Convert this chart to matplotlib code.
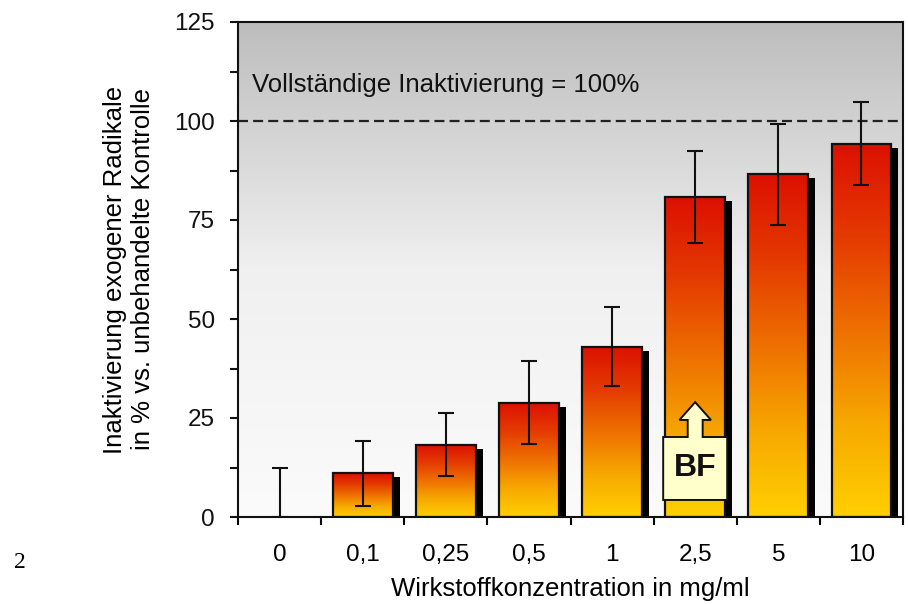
import numpy as np
import matplotlib
matplotlib.use("Agg")
import matplotlib.pyplot as plt
from matplotlib.colors import LinearSegmentedColormap
from matplotlib.patches import Rectangle, Polygon

plt.rcParams['font.family'] = ['Liberation Sans', 'DejaVu Sans']

# ---- data ----
categories = ["0", "0,1", "0,25", "0,5", "1", "2,5", "5", "10"]
values = [0, 11.0, 18.3, 28.9, 43.0, 80.7, 86.5, 94.3]
errors = [12.5, 8.3, 7.9, 10.5, 10.0, 11.6, 12.7, 10.5]
yticks = [0, 25, 50, 75, 100, 125]
ylabel_lines = ["Inaktivierung exogener Radikale", "in % vs. unbehandelte Kontrolle"]
xlabel = "Wirkstoffkonzentration in mg/ml"
ref_text = "Vollständige Inaktivierung = 100%"
ref_value = 100
bf_index = 5
bf_label = "BF"

FS_TICK = 17.5
FS_LAB = 18.5

fig = plt.figure(figsize=(9.08, 6.04), dpi=100)
ax = fig.add_axes([238/908, 87/604, 665/908, 495/604])

n = len(categories)
x = np.arange(n)
ax.set_xlim(-0.5, n - 0.5)
ax.set_ylim(0, 125)

# background gradient (gray at top -> near white at bottom)
bg = np.linspace(0, 1, 256).reshape(-1, 1)
bg_cmap = LinearSegmentedColormap.from_list("bg", ["#fbfbfb", "#f0f0f0", "#bdbdbd"])
ax.imshow(bg, cmap=bg_cmap, origin="lower", extent=[0, 1, 0, 1],
          transform=ax.transAxes, aspect="auto", zorder=0, interpolation="bicubic")

bar_cmap = LinearSegmentedColormap.from_list(
    "bar", ["#ffd000", "#f7a800", "#ee7000", "#e43a00", "#dc1000"])
grad = np.linspace(0, 1, 256).reshape(-1, 1)

width = 0.72
px_x = 1 / 83.0   # data units per pixel (x)
px_y = 1 / 3.96   # data units per pixel (y)
for xi, v in zip(x, values):
    if v <= 0:
        continue
    x0 = xi - width / 2
    x1 = xi + width / 2
    # shadow
    ax.add_patch(Rectangle((x0 + 7 * px_x, 0), width, v - 4 * px_y,
                           facecolor="black", edgecolor="none", zorder=2))
    ax.imshow(grad, cmap=bar_cmap, origin="lower", extent=[x0, x1, 0, v],
              aspect="auto", zorder=3, interpolation="bicubic")
    ax.add_patch(Rectangle((x0, 0), width, v, facecolor="none",
                           edgecolor="#111111", linewidth=1.6, zorder=4))

lower = [0 if v == 0 else e for v, e in zip(values, errors)]
ax.errorbar(x, values, yerr=[lower, errors], fmt="none", ecolor="#111111",
            elinewidth=1.5, capsize=6, capthick=1.5, zorder=5)

# reference line
ax.axhline(ref_value, color="#222222", linestyle=(0, (4.5, 2.3)), linewidth=1.6, zorder=1.5)
fig.text(252/908, 1 - 85/604, ref_text, fontsize=FS_LAB,
         ha="left", va="center", color="#111111")

# BF annotation (arrow + box)
bx = x[bf_index]
box_hw, shaft_hw, head_hw = 0.385, 0.09, 0.19
box_y0, box_y1, head_y, tip_y = 4.3, 20.2, 24.5, 29.0
poly = [(bx - box_hw, box_y0), (bx + box_hw, box_y0), (bx + box_hw, box_y1),
        (bx + shaft_hw, box_y1), (bx + shaft_hw, head_y), (bx + head_hw, head_y),
        (bx, tip_y), (bx - head_hw, head_y), (bx - shaft_hw, head_y),
        (bx - shaft_hw, box_y1), (bx - box_hw, box_y1)]
ax.add_patch(Polygon(poly, closed=True, facecolor="#ffffcc", edgecolor="#111111",
                     linewidth=1.4, zorder=6))
ax.text(bx, (box_y0 + box_y1) / 2, bf_label, ha="center", va="center",
        fontsize=23, fontweight="bold", color="#111111", zorder=7)

# axes styling
for s in ax.spines.values():
    s.set_color("#111111")
    s.set_linewidth(1.5)
    s.set_zorder(8)
ax.set_yticks(yticks)
ax.set_yticks(np.arange(12.5, 125, 25), minor=True)
ax.set_xticks(np.arange(-0.5, n, 1.0))
ax.set_xticklabels([])
ax.set_xticks(x, minor=True)
ax.set_xticklabels(categories, minor=True)
ax.tick_params(axis="y", which="both", direction="out", length=6, width=1.5,
               labelsize=FS_TICK, pad=10.5, colors="#111111")
ax.tick_params(axis="x", which="major", direction="out", length=6, width=1.5)
ax.tick_params(axis="x", which="minor", length=0, labelsize=FS_TICK, pad=19.5)

ax.set_xlabel(xlabel, fontsize=FS_LAB, labelpad=8)
ax.set_ylabel("\n".join(ylabel_lines), fontsize=FS_LAB, labelpad=14, linespacing=1.2)

fig.text(14/908, 1 - 563/604, "2", family=["Liberation Serif", "DejaVu Serif"],
         fontsize=17, ha="left", va="center")

fig.savefig("out.png", dpi=100)
